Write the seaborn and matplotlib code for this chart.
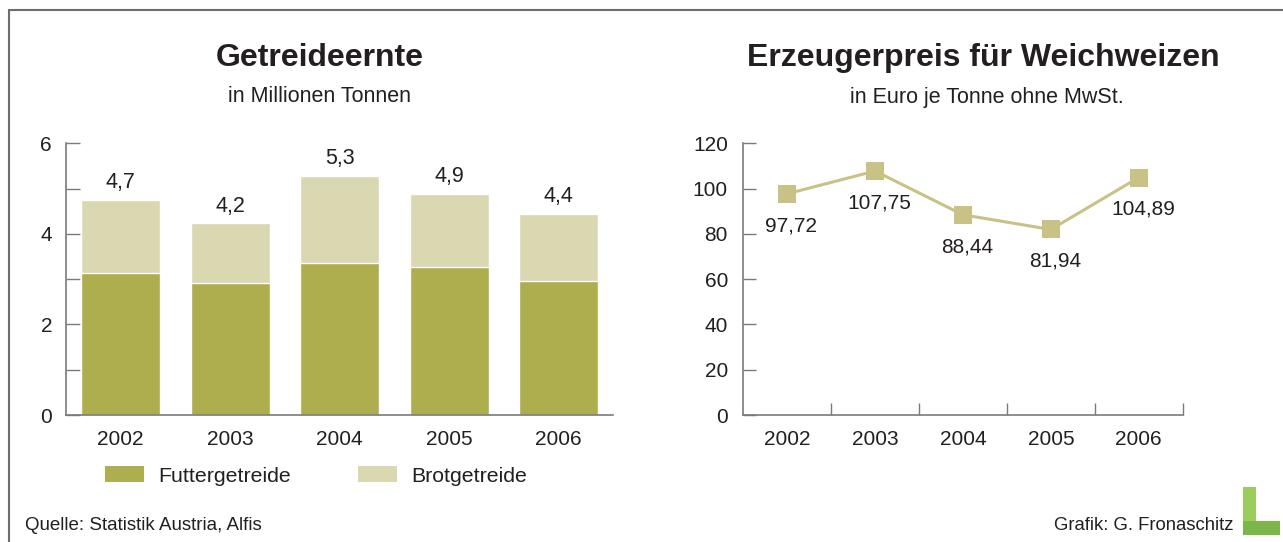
import matplotlib
matplotlib.use("Agg")
import matplotlib.pyplot as plt
import seaborn as sns
import pandas as pd
from matplotlib.patches import Patch, Rectangle
from matplotlib.lines import Line2D

# data
years = ["2002", "2003", "2004", "2005", "2006"]
futter = [3.13, 2.91, 3.35, 3.27, 2.96]
brot = [1.61, 1.32, 1.92, 1.61, 1.47]
totals_lbl = ["4,7", "4,2", "5,3", "4,9", "4,4"]
prices = [97.72, 107.75, 88.44, 81.94, 104.89]
price_lbl = ["97,72", "107,75", "88,44", "81,94", "104,89"]

dark = "#aeae4e"
light = "#dad8b0"
line_c = "#c8c287"
txt_c = "#231f20"
spine_c = "#7a7a7a"

sns.set_style("white")
plt.rcParams["font.family"] = ["Liberation Sans", "DejaVu Sans"]
plt.rcParams["text.color"] = txt_c

fig = plt.figure(figsize=(12.83, 5.42), dpi=100)
ax1 = fig.add_axes([0.0514, 0.2343, 0.4267, 0.5013])
ax2 = fig.add_axes([0.5793, 0.2343, 0.3425, 0.5013])

df = pd.DataFrame({"year": years, "futter": futter, "brot": brot})
df["total"] = df["futter"] + df["brot"]

# stacked bars: total in light, Futtergetreide on top in dark
sns.barplot(data=df, x="year", y="total", color=light, saturation=1, width=0.72, ax=ax1)
sns.barplot(data=df, x="year", y="futter", color=dark, saturation=1, width=0.72, ax=ax1)
for i, (t, lbl) in enumerate(zip(df["total"], totals_lbl)):
    ax1.annotate(lbl, (i, t), xytext=(0, 5), textcoords="offset points",
                 ha="center", va="bottom", fontsize=15.5, color=txt_c)

ax1.set_xlim(-0.5, 4.5)
ax1.set_ylim(0, 6)
ax1.set_yticks([0, 2, 4, 6])
ax1.set_yticks([1, 3, 5], minor=True)
ax1.tick_params(axis="y", which="both", left=True, direction="in", length=10, width=1,
                color=spine_c, labelsize=15, labelcolor=txt_c, pad=10)
ax1.tick_params(axis="x", bottom=False, labelsize=15, labelcolor=txt_c, pad=7)
ax1.set_xlabel("")
ax1.set_ylabel("")

# price line
sns.lineplot(x=years, y=prices, ax=ax2, color=line_c, linewidth=2.2,
             marker="s", markersize=13, markeredgewidth=0, sort=False)
for i, (p, lbl) in enumerate(zip(prices, price_lbl)):
    ax2.annotate(lbl, (i, p), xytext=(3, -23), textcoords="offset points",
                 ha="center", va="center", fontsize=15, color=txt_c)
ax2.set_xlim(-0.5, 4.5)
ax2.set_ylim(0, 120)
ax2.set_yticks(range(0, 121, 20))
ax2.set_xticks([0.5, 1.5, 2.5, 3.5, 4.5], minor=True)
ax2.tick_params(axis="y", left=True, direction="in", length=9, width=1, color=spine_c,
                labelsize=15, labelcolor=txt_c, pad=11)
ax2.tick_params(axis="x", which="major", bottom=False, labelsize=15, labelcolor=txt_c, pad=7)
ax2.tick_params(axis="x", which="minor", bottom=True, direction="in", length=9, width=1, color=spine_c)

for ax in (ax1, ax2):
    for s in ("top", "right"):
        ax.spines[s].set_visible(False)
    for s in ("left", "bottom"):
        ax.spines[s].set_color(spine_c)
        ax.spines[s].set_linewidth(1.2)
    ax.grid(False)

# titles
fig.text(320 / 1283, 1 - 58 / 542, "Getreideernte", ha="center", va="center",
         fontsize=23, fontweight="bold")
fig.text(319 / 1283, 1 - 97 / 542, "in Millionen Tonnen", ha="center", va="center", fontsize=15.5)
fig.text(983 / 1283, 1 - 58 / 542, "Erzeugerpreis für Weichweizen", ha="center", va="center",
         fontsize=23, fontweight="bold")
fig.text(987 / 1283, 1 - 97 / 542, "in Euro je Tonne ohne MwSt.", ha="center", va="center", fontsize=15.5)

# legend
handles = [Patch(facecolor=dark, edgecolor="none", label="Futtergetreide"),
           Patch(facecolor=light, edgecolor="none", label="Brotgetreide")]
fig.legend(handles=handles, ncol=2, loc="center left", bbox_to_anchor=(86 / 1283, 1 - 476 / 542),
           frameon=False, fontsize=15.3, handlelength=1.84, handleheight=0.75,
           handletextpad=0.66, columnspacing=3.15)

# footer
fig.text(25 / 1283, 1 - 525 / 542, "Quelle: Statistik Austria, Alfis", ha="left", va="center", fontsize=13.5)
fig.text(1233 / 1283, 1 - 525 / 542, "Grafik: G. Fronaschitz", ha="right", va="center", fontsize=13.3)

# frame lines (top and left)
fig.add_artist(Line2D([9 / 1283, 1], [1 - 10 / 542, 1 - 10 / 542], color="#6d6d6d", lw=1.5))
fig.add_artist(Line2D([9 / 1283, 9 / 1283], [0, 1 - 10 / 542], color="#6d6d6d", lw=1.5))

# small green L logo
fig.add_artist(Rectangle((1243 / 1283, 1 - 535 / 542), 13 / 1283, 48 / 542,
                         transform=fig.transFigure, facecolor="#9acd5e", edgecolor="none"))
fig.add_artist(Rectangle((1243 / 1283, 1 - 535 / 542), 37 / 1283, 14 / 542,
                         transform=fig.transFigure, facecolor="#7ab648", edgecolor="none"))

fig.savefig("out.png", dpi=100)
